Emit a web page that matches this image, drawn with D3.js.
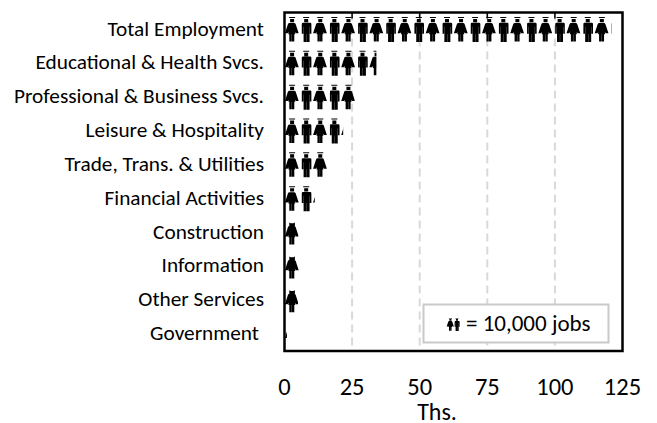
<!DOCTYPE html>
<html>
<head>
<meta charset="utf-8">
<script src="https://cdn.jsdelivr.net/npm/d3@7"></script>
<style>
  html, body { margin: 0; background: #fff; }
  svg { display: block; font-family: Carlito, Lato, sans-serif; }
</style>
</head>
<body>
<div id="chart"></div>
<script>
const categories = ["Total Employment", "Educational & Health Svcs.", "Professional & Business Svcs.",
  "Leisure & Hospitality", "Trade, Trans. & Utilities", "Financial Activities",
  "Construction", "Information", "Other Services", "Government"];
const jobs = [121, 34, 26, 21.7, 16, 11.2, 5.2, 5.5, 5, 0.9];
const xTicks = [0, 25, 50, 75, 100, 125];
const gridTicks = [25, 50, 75, 100];

let width = 657,
    height = 423,
    margin = ({ top: 12.5, right: 34.5, bottom: 72, left: 284.5 });

const iconStep = 14.08, iconH = 25;

const svg = d3.select("#chart")
  .append("svg")
  .attr("width", width)
  .attr("height", height)
  .attr("viewBox", [0, 0, width, height]);

let x = d3.scaleLinear()
  .domain([0, 125])
  .range([margin.left, width - margin.right]);

let y = d3.scaleBand()
  .domain(categories)
  .range([margin.top, height - margin.bottom]);

// icons drawn in a 14 x 25 box
const womanBody = "M4.6 6h4c.8 0 1.3.4 1.6 1.2l3 9.2h-2.8l-.7-1.4v2.2h-.9v7.3h-2.4v-7.3h-.2v7.3h-2.4v-7.3h-.9v-2.2l-.7 1.4h-2.8l3-9.2c.3-.8.8-1.2 1.6-1.2z";
const womanPath = "M3.6 0h6v1h-6z M4.6 2h4v3.4h-4z " + womanBody;
// lower rows: the bar and head run together into a small bow
const womanBowPath = "M3.8 2.5l1.5 .8h2.6l1.5-.8v3.5h-5.6z " + womanBody;
const manPath = "M3.6 0h6v1h-6z M4.6 2h4v3.4h-4z M3 5.8h7.2c1 0 1.6.5 1.6 1.4v9.6h-1.6v-7h-.2v15.2h-2.9v-8h-.2v8h-2.9v-15.2h-.2v7h-1.6v-9.6c0-.9.6-1.4 1.6-1.4z";

let defs = svg.append("defs");
defs.append("path").attr("id", "woman").attr("d", womanPath);
defs.append("path").attr("id", "womanBow").attr("d", womanBowPath);
defs.append("path").attr("id", "man").attr("d", manPath);

// grid
svg.append("g")
  .selectAll("line")
  .data(gridTicks)
  .join("line")
  .attr("x1", d => x(d))
  .attr("x2", d => x(d))
  .attr("y1", margin.top)
  .attr("y2", height - margin.bottom)
  .attr("stroke", "#d9d9d9")
  .attr("stroke-width", 2)
  .attr("stroke-dasharray", "8 5");

// icon rows, cut off at the value
categories.forEach((c, i) => {
  let clipId = "clip" + i;
  defs.append("clipPath").attr("id", clipId)
    .append("rect")
    .attr("x", x(0))
    .attr("y", 0)
    .attr("width", x(jobs[i]) - x(0))
    .attr("height", height);

  let n = Math.ceil((x(jobs[i]) - x(0)) / iconStep);
  svg.append("g")
    .attr("clip-path", `url(#${clipId})`)
    .selectAll("use")
    .data(d3.range(n))
    .join("use")
    .attr("href", d => d % 2 === 1 ? "#man" : (i >= 6 && i < 9 ? "#womanBow" : "#woman"))
    .attr("transform", d => `translate(${x(0) + d * iconStep + 1},${y(c) + y.bandwidth() / 2 - iconH / 2})`);
});

// category labels
svg.append("g")
  .selectAll("text")
  .data(categories)
  .join("text")
  .attr("x", d => d === "Government" ? 259 : 264)
  .attr("y", d => y(d) + y.bandwidth() / 2 + 1)
  .attr("text-anchor", "end")
  .attr("dominant-baseline", "middle")
  .attr("font-size", 21.3)
  .attr("fill", "#000")
  .text(d => d);

// frame and top ticks
svg.append("rect")
  .attr("x", margin.left)
  .attr("y", margin.top)
  .attr("width", width - margin.left - margin.right)
  .attr("height", height - margin.top - margin.bottom)
  .attr("fill", "none")
  .attr("stroke", "#000")
  .attr("stroke-width", 2.5);

svg.append("g")
  .selectAll("line")
  .data(gridTicks)
  .join("line")
  .attr("x1", d => x(d))
  .attr("x2", d => x(d))
  .attr("y1", margin.top)
  .attr("y2", margin.top + 6)
  .attr("stroke", "#000")
  .attr("stroke-width", 1.5);

// x labels
svg.append("g")
  .selectAll("text")
  .data(xTicks)
  .join("text")
  .attr("x", d => x(d))
  .attr("y", 395)
  .attr("text-anchor", "middle")
  .attr("font-size", 24.5)
  .text(d => d);

svg.append("text")
  .attr("x", 437)
  .attr("y", 420)
  .attr("text-anchor", "middle")
  .attr("font-size", 24)
  .text("Ths.");

// legend
svg.append("rect")
  .attr("x", 423.5)
  .attr("y", 304.5)
  .attr("width", 185)
  .attr("height", 38)
  .attr("fill", "#fff")
  .attr("stroke", "#c9c9c9")
  .attr("stroke-width", 2);

svg.append("use").attr("href", "#woman")
  .attr("transform", "translate(447,318) scale(0.52)");
svg.append("use").attr("href", "#man")
  .attr("transform", "translate(453.5,318) scale(0.52)");

svg.append("text")
  .attr("x", 466)
  .attr("y", 331)
  .attr("font-size", 23)
  .text("= 10,000 jobs");
</script>
</body>
</html>
